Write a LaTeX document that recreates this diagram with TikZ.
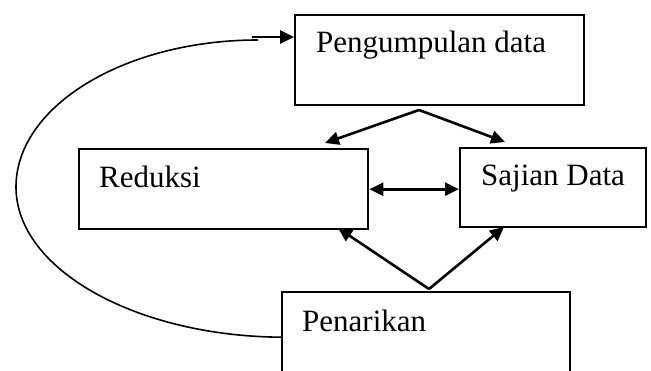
\documentclass[tikz,border=0pt]{standalone}
\usepackage{fontspec}
\setmainfont{Liberation Serif}
\usetikzlibrary{arrows.meta}
\begin{document}
\begin{tikzpicture}[x=1pt,y=-1pt,
  box/.style={draw=black,line width=2.4pt,rectangle,inner sep=0pt,anchor=north west},
  lbl/.style={font=\fontsize{31}{36}\selectfont,anchor=base west,inner sep=0pt},
  arr/.style={line width=2.6pt,-{Triangle[length=14pt,width=13pt]}},
  darr/.style={line width=2.6pt,{Triangle[length=14pt,width=13pt]}-{Triangle[length=14pt,width=13pt]}},
  loop/.style={line width=1.6pt}]
\useasboundingbox (0,0) rectangle (651,370);
\clip (0,0) rectangle (651,370);
\node[box,minimum width=289pt,minimum height=90pt] (pd) at (294,14) {};
\node[box,minimum width=289pt,minimum height=80pt] (red) at (78,148) {};
\node[box,minimum width=186pt,minimum height=79pt] (sa) at (459,147) {};
\node[box,minimum width=288pt,minimum height=90pt] (pen) at (281,291) {};
\node[lbl] (tpd) at (316,52) {Pengumpulan data};
\node[lbl] (tred) at (99,187) {Reduksi};
\node[lbl] (tsa) at (481,185) {Sajian Data};
\node[lbl] (tpen) at (302,331) {Penarikan};
% top fork
\coordinate (f1) at (419,110);
\coordinate (f1l) at (325,143);
\coordinate (f1r) at (505,142);
\draw[arr] (f1) -- (f1l);
\draw[arr] (f1) -- (f1r);
% bottom fork
\coordinate (f2) at (429,289);
\coordinate (f2l) at (338,228);
\coordinate (f2r) at (504,227);
\draw[arr] (f2) -- (f2l);
\draw[arr] (f2) -- (f2r);
% double arrow
\draw[darr] (red.east) -- (red.east -| sa.west);
% feedback loop
\coordinate (c1) at (258,40);
\coordinate (c2) at (252,37);
\draw[loop] (pen.west) .. controls (135,336) and (16,269) .. (16,187)
  .. controls (16,106) and (125,40) .. (c1);
\draw[arr] (c2) -- (c2 -| pd.west);
\end{tikzpicture}
\end{document}
